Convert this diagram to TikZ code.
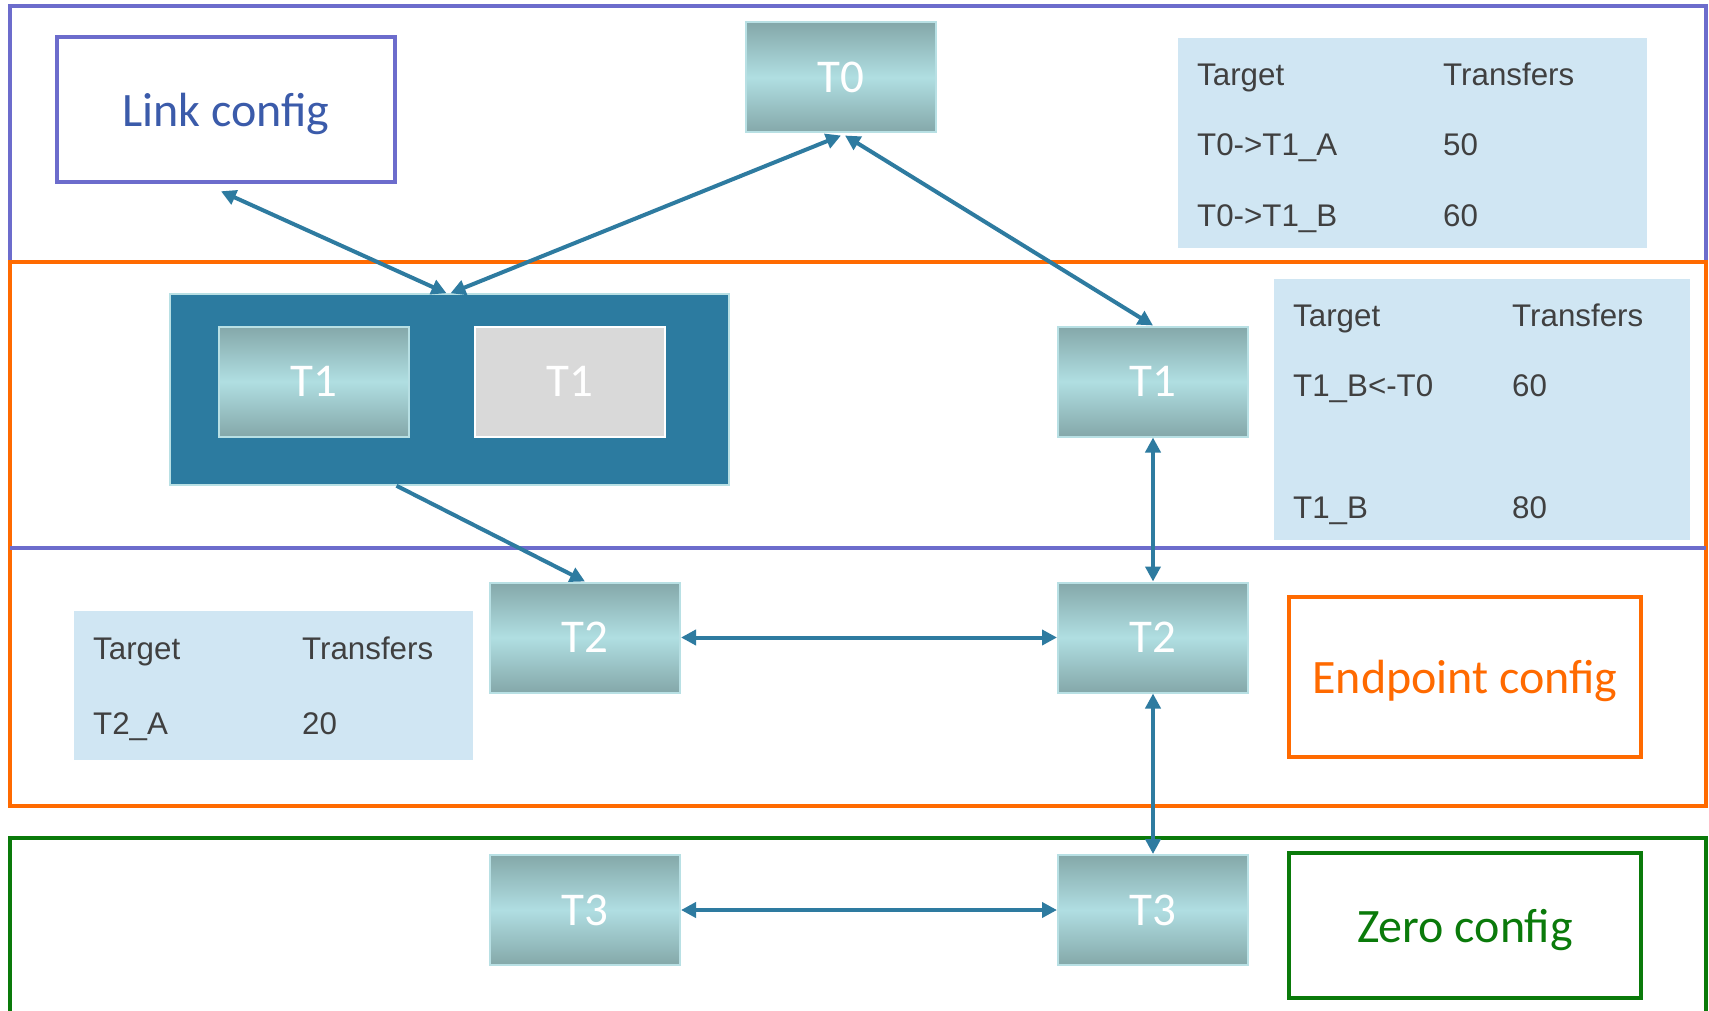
\documentclass[tikz,border=0pt]{standalone}
\usepackage{fontspec}
\setmainfont{Carlito}
\newfontfamily\tabfont{Liberation Sans}
\usetikzlibrary{arrows.meta,calc}
\definecolor{purp}{RGB}{108,108,204}
\definecolor{orng}{RGB}{255,106,0}
\definecolor{grn}{RGB}{10,122,10}
\definecolor{arr}{RGB}{46,123,160}
\definecolor{contc}{RGB}{44,123,160}
\definecolor{tabbg}{RGB}{208,230,243}
\definecolor{tabtxt}{RGB}{64,64,64}
\definecolor{tdark}{RGB}{132,168,169}
\definecolor{tlight}{RGB}{176,222,226}
\definecolor{tborder}{RGB}{184,224,228}
\definecolor{linktxt}{RGB}{59,91,170}
\definecolor{grayb}{RGB}{217,217,217}
\begin{document}
\begin{tikzpicture}[x=1pt,y=-1pt,
  frame/.style={line width=4pt},
  tnode/.style={rectangle, minimum width=190pt, minimum height=110pt, inner sep=0pt,
    draw=tborder, line width=2pt, top color=tdark, bottom color=tdark, middle color=tlight,
    text=white, font=\fontsize{47}{47}\selectfont},
  graynode/.style={tnode, top color=grayb, bottom color=grayb, middle color=grayb, draw=white},
  cfgbox/.style={rectangle, inner sep=0pt, line width=4.5pt, text depth=0pt, font=\fontsize{48}{48}\selectfont},
  tabbox/.style={fill=tabbg, draw=none},
  tabtext/.style={anchor=base west, inner sep=0pt, text=tabtxt, font=\tabfont\fontsize{31.3}{31.3}\selectfont},
  conn/.style={draw=arr, line width=4pt, {Triangle[length=15pt,width=15pt]}-{Triangle[length=15pt,width=15pt]}},
  conn1/.style={draw=arr, line width=4pt, -{Triangle[length=15pt,width=15pt]}}
]
\clip (0,0) rectangle (1709,1011);
\fill[white] (0,0) rectangle (1709,1011);

% frames
\draw[frame, draw=purp] (10,6.5) rectangle (1706,548);
\draw[frame, draw=orng] (10,262) rectangle (1706,806);
\draw[frame, draw=grn] (10,838) rectangle (1706,1040);
\draw[frame, draw=purp] (10,548) -- (1706,548);

% tables
\fill[tabbox] (1178,38) rectangle (1647,248);
\fill[tabbox] (1274,279) rectangle (1690,540);
\fill[tabbox] (74,611) rectangle (473,760);

\node[tabtext] (a1) at (1197,86) {Target};
\node[tabtext] (a2) at (1443,86) {Transfers};
\node[tabtext] (a3) at (1197,156) {T0->T1\_A};
\node[tabtext] (a4) at (1443,156) {50};
\node[tabtext] (a5) at (1197,227) {T0->T1\_B};
\node[tabtext] (a6) at (1443,227) {60};

\node[tabtext] (b1) at (1293,326) {Target};
\node[tabtext] (b2) at (1512,326) {Transfers};
\node[tabtext] (b3) at (1293,396) {T1\_B<-T0};
\node[tabtext] (b4) at (1512,396) {60};
\node[tabtext] (b5) at (1293,518) {T1\_B};
\node[tabtext] (b6) at (1512,518) {80};

\node[tabtext] (c1) at (93,659) {Target};
\node[tabtext] (c2) at (302,659) {Transfers};
\node[tabtext] (c3) at (93,734) {T2\_A};
\node[tabtext] (c4) at (302,734) {20};

% config boxes
\node[cfgbox, draw=purp, text=linktxt, minimum width=338pt, minimum height=145pt] (link) at (226,109.5) {Link config};
\node[cfgbox, draw=orng, text=orng, minimum width=352pt, minimum height=160pt] (endp) at (1465,677) {Endpoint config};
\node[cfgbox, draw=grn, text=grn, minimum width=352pt, minimum height=145pt] (zero) at (1465,925.5) {Zero config};

% container
\node[rectangle, fill=contc, draw=tborder, line width=1.5pt, minimum width=559pt, minimum height=191pt, inner sep=0pt] (cont) at (449.5,389.5) {};

% T nodes
\node[tnode] (t0) at (841,77.5) {T0};
\node[tnode] (t1a) at (314,381.5) {T1};
\node[graynode] (t1b) at (569.5,381.5) {T1};
\node[tnode] (t1r) at (1153,381.5) {T1};
\node[tnode] (t2l) at (585,637.5) {T2};
\node[tnode] (t2r) at (1153,637.5) {T2};
\node[tnode] (t3l) at (585,910) {T3};
\node[tnode] (t3r) at (1153,910) {T3};

% connectors
\draw[conn] ([xshift=-5,yshift=-7]link.south) -- ([xshift=-3]cont.north);
\draw[conn] ([xshift=0,yshift=-2]t0.south) -- ([xshift=1]cont.north);
\draw[conn] ([xshift=4,yshift=-2]t0.south) -- (t1r.north);
\draw[conn1] ([xshift=-53]cont.south) -- (t2l.north);
\draw[conn] (t2l.east) -- (t2r.west);
\draw[conn] (t1r.south) -- (t2r.north);
\draw[conn] (t2r.south) -- (t3r.north);
\draw[conn] (t3l.east) -- (t3r.west);
\end{tikzpicture}
\end{document}
